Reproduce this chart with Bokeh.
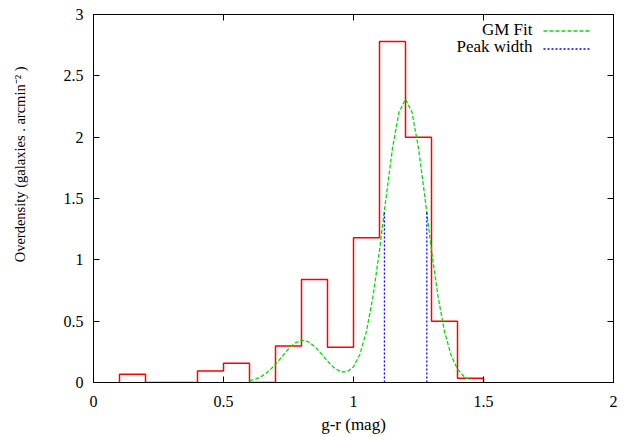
from bokeh.plotting import figure
from bokeh.models import LinearAxis, FixedTicker, Range1d, Label, Legend, LegendItem
from bokeh.embed import file_html
from bokeh.resources import INLINE

# ---- data ----
bin_edges = [0.1, 0.2, 0.3, 0.4, 0.5, 0.6, 0.7, 0.8, 0.9, 1.0, 1.1, 1.2, 1.3, 1.4, 1.5]
overdensity = [0.068, 0.0, 0.0, 0.093, 0.157, 0.0, 0.297, 0.84, 0.288, 1.18, 2.78, 2.0, 0.50, 0.035]

fit_x = [0.600, 0.625, 0.650, 0.675, 0.700, 0.725, 0.750, 0.775, 0.800, 0.825,
         0.850, 0.875, 0.900, 0.925, 0.950, 0.975, 1.000, 1.025, 1.050, 1.075,
         1.100, 1.125, 1.150, 1.175, 1.200, 1.225, 1.250, 1.275, 1.300, 1.325,
         1.350, 1.375, 1.400, 1.425, 1.450]
fit_y = [0.014, 0.029, 0.054, 0.094, 0.148, 0.211, 0.273, 0.322, 0.345, 0.334,
         0.295, 0.237, 0.174, 0.121, 0.088, 0.086, 0.128, 0.232, 0.419, 0.702,
         1.078, 1.504, 1.910, 2.203, 2.310, 2.203, 1.910, 1.504, 1.078, 0.702,
         0.416, 0.224, 0.109, 0.049, 0.020]

peak_x = [1.119, 1.282]
peak_top = [1.40, 1.39]

x_ticks = [0, 0.5, 1, 1.5, 2]
y_ticks = [0, 0.5, 1, 1.5, 2, 2.5, 3]

legend_labels = ["GM Fit", "Peak width"]

FONT = "Liberation Serif"

# histogram outline as steps
step_x = [bin_edges[0]] + bin_edges
step_y = [0.0] + overdensity + [0.0]

p = figure(output_backend="svg", toolbar_location=None,
           frame_width=520, frame_height=368,
           min_border_left=93, min_border_right=10, min_border_top=14, min_border_bottom=54,
           x_range=Range1d(0, 2), y_range=Range1d(0, 3))
p.background_fill_color = "white"
p.border_fill_color = "white"
p.xgrid.visible = False
p.ygrid.visible = False
p.outline_line_color = "black"

p.step(step_x, step_y, mode="after", line_color="#ff0000", line_width=1.5)
fit = p.line(fit_x, fit_y, line_color="#00e000", line_width=1.3, line_dash="4 2")
peaks = p.segment(x0=peak_x, y0=[0, 0], x1=peak_x, y1=peak_top,
                  line_color="#0000ff", line_width=1.3, line_dash="2 2")

def style(ax, labels=True):
    ax.axis_line_color = "black"
    ax.axis_line_width = 1
    ax.major_tick_in = 6
    ax.major_tick_out = 0
    ax.minor_tick_line_color = None
    ax.major_tick_line_color = "black"
    ax.major_label_text_font = FONT
    ax.major_label_text_font_size = "16px"
    ax.major_label_text_color = "black"
    if not labels:
        ax.major_label_text_font_size = "0px"
        ax.major_label_text_alpha = 0
        ax.major_label_standoff = 0
        ax.axis_label_standoff = 0

bottom_ax = p.below[0]
left_ax = p.left[0]
bottom_ax.ticker = FixedTicker(ticks=x_ticks)
left_ax.ticker = FixedTicker(ticks=y_ticks)
style(bottom_ax)
style(left_ax)
bottom_ax.major_label_standoff = 13
left_ax.major_label_standoff = 10

top_ax = LinearAxis(ticker=FixedTicker(ticks=x_ticks))
right_ax = LinearAxis(ticker=FixedTicker(ticks=y_ticks))
style(top_ax, labels=False)
style(right_ax, labels=False)
p.add_layout(top_ax, "above")
p.add_layout(right_ax, "right")

bottom_ax.axis_label = "g-r (mag)"
bottom_ax.axis_label_text_font = FONT
bottom_ax.axis_label_text_font_size = "17px"
bottom_ax.axis_label_text_font_style = "normal"
bottom_ax.axis_label_text_color = "black"
bottom_ax.axis_label_standoff = 5

# leading wide spaces shift the visible title upward, as in the reference
left_ax.axis_label = "\u2003" * 4 + "\u2002\u2009" + "Overdensity (galaxies . arcmin\u207b\u00b2 )"
left_ax.axis_label_text_font = FONT
left_ax.axis_label_text_font_size = "14.5px"
left_ax.axis_label_text_font_style = "normal"
left_ax.axis_label_text_color = "black"
left_ax.axis_label_standoff = 33

legend = Legend(items=[LegendItem(label=" ", renderers=[fit]),
                       LegendItem(label=" ", renderers=[peaks])],
                location=(450, 325), glyph_width=48, glyph_height=17, label_height=17,
                label_width=0, label_standoff=0, spacing=1, padding=0, margin=0,
                label_text_font=FONT, label_text_font_size="14px",
                border_line_color=None, background_fill_alpha=0)
p.add_layout(legend, "center")

for txt, yy in zip(legend_labels, (353.0, 336)):
    p.add_layout(Label(x=439, y=yy, x_units="screen", y_units="screen", text=txt,
                       text_align="right", text_baseline="middle",
                       text_font=FONT, text_font_size="17px", text_color="black"))

open("out.html", "w").write(file_html(p, INLINE))
